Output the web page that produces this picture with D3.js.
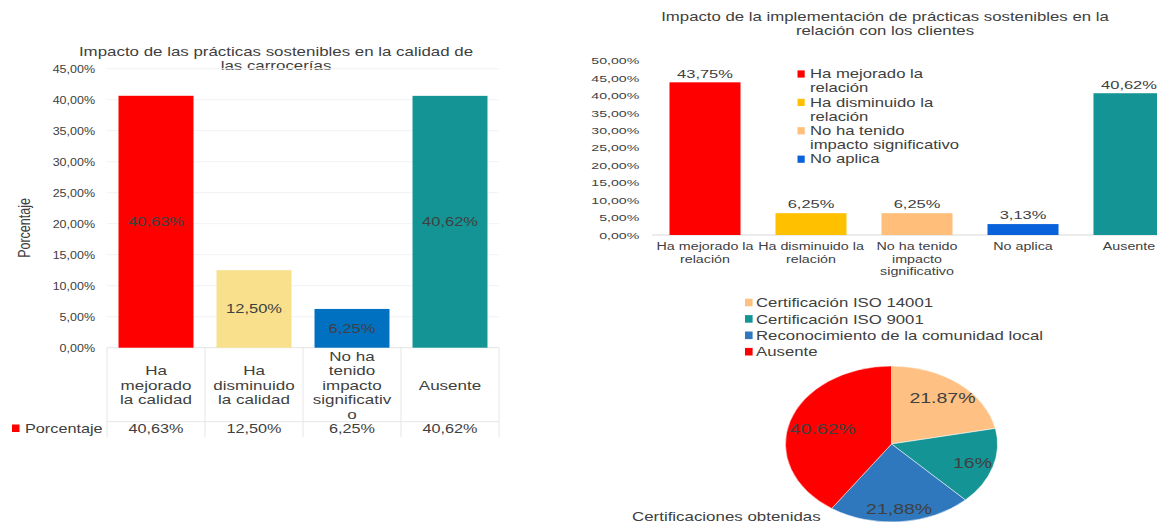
<!DOCTYPE html>
<html>
<head>
<meta charset="utf-8">
<script src="https://cdn.jsdelivr.net/npm/d3@7"></script>
<style>
  html, body { margin: 0; padding: 0; background: #ffffff; }
  svg { display: block; font-family: "Liberation Sans", Arial, sans-serif; }
  text { fill: #404040; }
</style>
</head>
<body>
<svg id="chart" width="1157" height="524"></svg>
<script>
// ---------- Left chart data ----------
const leftTitle = ["Impacto de las prácticas sostenibles en la calidad de", "las carrocerías"];
const leftCategories = ["Ha mejorado la calidad", "Ha disminuido la calidad", "No ha tenido impacto significativo", "Ausente"];
const leftCategoryLines = [["Ha", "mejorado", "la calidad"], ["Ha", "disminuido", "la calidad"], ["No ha", "tenido", "impacto", "significativ", "o"], ["Ausente"]];
const leftValues = [40.63, 12.50, 6.25, 40.62];
const leftColors = ["#FF0000", "#F9E08C", "#0070C0", "#149494"];
const leftTicks = [0, 5, 10, 15, 20, 25, 30, 35, 40, 45];
const leftSeriesName = "Porcentaje";
const leftAxisTitle = "Porcentaje";

// ---------- Right chart data ----------
const rightTitle = ["Impacto de la implementación de prácticas sostenibles en la", "relación con los clientes"];
const rightCategories = ["Ha mejorado la relación", "Ha disminuido la relación", "No ha tenido impacto significativo", "No aplica", "Ausente"];
const rightCategoryLines = [["Ha mejorado la", "relación"], ["Ha disminuido la", "relación"], ["No ha tenido", "impacto", "significativo"], ["No aplica"], ["Ausente"]];
const rightValues = [43.75, 6.25, 6.25, 3.13, 40.62];
const rightColors = ["#FF0000", "#FFC000", "#FFBE7A", "#0A62DA", "#149494"];
const rightLegendLines = [["Ha mejorado la", "relación"], ["Ha disminuido la", "relación"], ["No ha tenido", "impacto significativo"], ["No aplica"]];
const rightTicks = [0, 5, 10, 15, 20, 25, 30, 35, 40, 45, 50];

// ---------- Pie data ----------
const pieTitle = "Certificaciones obtenidas";
const pieCategories = ["Certificación ISO 14001", "Certificación ISO 9001", "Reconocimiento de la comunidad local", "Ausente"];
const pieValues = [21.87, 16, 21.88, 40.62];
const pieLabels = ["21.87%", "16%", "21,88%", "40.62%"];
const pieColors = ["#FFC183", "#149494", "#2F78BD", "#FF0000"];

// ---------- helpers ----------
const svg = d3.select("#chart");
const pct = v => d3.format(".2f")(v).replace(".", ",") + "%";

function txt(parent, x, y, s, size, sx, anchor) {
  return parent.append("text")
    .attr("transform", `translate(${x},${y}) scale(${sx},1)`)
    .attr("text-anchor", anchor || "middle")
    .attr("dominant-baseline", "central")
    .style("font-size", size + "px")
    .text(s);
}

// ================= LEFT CHART =================
(function () {
  const g = svg.append("g");
  const x = d3.scaleBand().domain(leftCategories).range([107, 499]).paddingInner(0.235).paddingOuter(0.1175);
  const y = d3.scaleLinear().domain([0, 45]).range([347.7, 68.7]);

  // title
  leftTitle.forEach((t, i) => txt(g, 276, 51 + i * 14, t, 13, 1.3));

  // gridlines
  g.selectAll("line.grid").data(leftTicks).join("line")
    .attr("x1", 107).attr("x2", 499)
    .attr("y1", d => y(d)).attr("y2", d => y(d))
    .attr("stroke", d => d === 0 ? "#e4e4e4" : "#f2f2f2").attr("stroke-width", 1);

  // axis labels
  const sxT = 1.19;
  const ax = g.append("g").attr("transform", "translate(107,0)")
    .call(d3.axisLeft(y).tickValues(leftTicks).tickSize(0).tickPadding(12).tickFormat(pct));
  ax.select(".domain").remove();
  ax.selectAll("text")
    .attr("x", -12 / sxT).attr("dy", null)
    .attr("dominant-baseline", "central")
    .attr("transform", `scale(${sxT},1)`)
    .style("font-size", "10.5px").style("font-family", "Liberation Sans, Arial, sans-serif").attr("fill", "#404040");

  // y title
  g.append("text")
    .attr("transform", "translate(24,228) rotate(-90) scale(1,1.3)")
    .attr("text-anchor", "middle").attr("dominant-baseline", "central")
    .style("font-size", "12.5px").attr("fill", "#595959")
    .text(leftAxisTitle);

  // bars
  g.selectAll("rect.bar").data(leftValues).join("rect")
    .attr("x", (d, i) => x(leftCategories[i]))
    .attr("width", x.bandwidth())
    .attr("y", d => y(d))
    .attr("height", d => y(0) - y(d))
    .attr("fill", (d, i) => leftColors[i]);

  // data labels centered
  leftValues.forEach((v, i) => {
    txt(g, x(leftCategories[i]) + x.bandwidth() / 2, (y(v) + y(0)) / 2, pct(v), 13, 1.27);
  });

  // data table
  const step = x.step();
  const x0 = 107;
  const tableLines = d3.range(leftCategories.length + 1).map(i => x0 + i * step);
  g.selectAll("line.tv").data(tableLines).join("line")
    .attr("x1", d => d).attr("x2", d => d).attr("y1", 347.7).attr("y2", 437)
    .attr("stroke", "#e6e6e6");
  g.append("line").attr("x1", 107).attr("x2", 499).attr("y1", 421.7).attr("y2", 421.7).attr("stroke", "#e6e6e6");

  leftCategoryLines.forEach((lines, i) => {
    const cx = x(leftCategories[i]) + x.bandwidth() / 2;
    const n = lines.length;
    lines.forEach((l, j) => txt(g, cx, 385 + (j - (n - 1) / 2) * 14.5, l, 13, 1.31));
  });

  // series row
  g.append("rect").attr("x", 12).attr("y", 424.5).attr("width", 7.5).attr("height", 7.5).attr("fill", leftColors[0]);
  txt(g, 25, 428.5, leftSeriesName, 12.5, 1.3, "start");
  leftValues.forEach((v, i) => {
    txt(g, x(leftCategories[i]) + x.bandwidth() / 2, 428.5, pct(v), 12.5, 1.3);
  });
})();

// ================= RIGHT CHART =================
(function () {
  const g = svg.append("g");
  const x = d3.scaleBand().domain(rightCategories).range([652, 1182]).paddingInner(0.33).paddingOuter(0.165);
  const y = d3.scaleLinear().domain([0, 50]).range([235, 60.5]);

  rightTitle.forEach((t, i) => txt(g, 885, 16.7 + i * 14.3, t, 12, 1.4));

  const sxT = 1.49;
  const ax = g.append("g").attr("transform", "translate(652,0)")
    .call(d3.axisLeft(y).tickValues(rightTicks).tickSize(0).tickPadding(12.7).tickFormat(pct));
  ax.select(".domain").remove();
  ax.selectAll("text")
    .attr("x", -12.7 / sxT).attr("dy", null)
    .attr("dominant-baseline", "central")
    .attr("transform", `scale(${sxT},1)`)
    .style("font-size", "9.5px").style("font-family", "Liberation Sans, Arial, sans-serif").attr("fill", "#404040");

  // baseline
  g.append("line").attr("x1", 652).attr("x2", 1157).attr("y1", y(0)).attr("y2", y(0)).attr("stroke", "#d9d9d9");

  // bars
  g.selectAll("rect.bar").data(rightValues).join("rect")
    .attr("x", (d, i) => x(rightCategories[i]))
    .attr("width", x.bandwidth())
    .attr("y", d => y(d))
    .attr("height", d => y(0) - y(d))
    .attr("fill", (d, i) => rightColors[i]);

  rightValues.forEach((v, i) => {
    txt(g, x(rightCategories[i]) + x.bandwidth() / 2, y(v) - 8.8, pct(v), 11.6, 1.42);
  });

  rightCategoryLines.forEach((lines, i) => {
    const cx = x(rightCategories[i]) + x.bandwidth() / 2;
    lines.forEach((l, j) => txt(g, cx, 246.5 + j * 12.2, l, 11, 1.3));
  });

  // legend
  let row = 0;
  rightLegendLines.forEach((lines, i) => {
    const cy = 74 + row * 14.2;
    g.append("rect").attr("x", 797.5).attr("y", cy - 3.6).attr("width", 7.2).attr("height", 7.2).attr("fill", rightColors[i]);
    lines.forEach((l, j) => txt(g, 810, 74 + (row + j) * 14.2, l, 12, 1.39, "start"));
    row += lines.length;
  });
})();

// ================= PIE CHART =================
(function () {
  const g = svg.append("g");
  const cx = 891.5, cy = 444, rx = 106, ry = 78;

  // legend
  pieCategories.forEach((c, i) => {
    const yy = 302.5 + i * 16.4;
    g.append("rect").attr("x", 745).attr("y", yy - 3.8).attr("width", 7.6).attr("height", 7.6).attr("fill", pieColors[i]);
    txt(g, 756, yy, c, 13, 1.29, "start");
  });

  const pie = d3.pie().sort(null).value(d => d);
  const arcs = pie(pieValues);
  const arc = d3.arc().innerRadius(0).outerRadius(1);

  const pg = g.append("g").attr("transform", `translate(${cx},${cy}) scale(${rx},${ry})`);
  pg.selectAll("path").data(arcs).join("path")
    .attr("d", arc)
    .attr("fill", (d, i) => pieColors[i])
    .attr("stroke", "#ffffff").attr("stroke-opacity", 0.5)
    .attr("stroke-width", 1).attr("vector-effect", "non-scaling-stroke");

  const labelArc = d3.arc().innerRadius(0.78 * 2 - 0).outerRadius(0); // centroid at 0.78 radius
  const fr = [0.76, 0.8, 0.84, 0.68];
  arcs.forEach((a, i) => {
    const m = (a.startAngle + a.endAngle) / 2;
    const px = cx + Math.sin(m) * fr[i] * rx;
    const py = cy - Math.cos(m) * fr[i] * ry;
    txt(g, px, py, pieLabels[i], 15, 1.3);
  });

  txt(g, 632, 516, pieTitle, 13, 1.3, "start");
})();
</script>
</body>
</html>
